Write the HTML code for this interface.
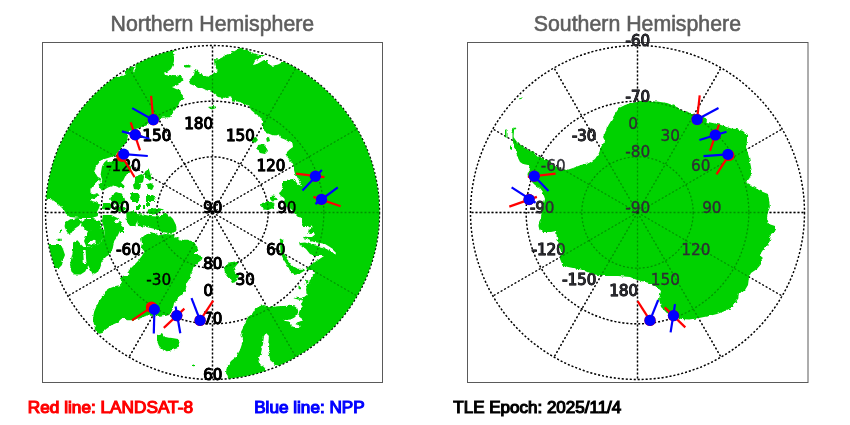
<!DOCTYPE html>
<html><head><meta charset="utf-8"><style>
html,body{margin:0;padding:0;background:#fff;width:850px;height:425px;overflow:hidden}
svg{display:block}
.gu{fill:none;stroke:#000;stroke-width:1.4;stroke-dasharray:2 2}
.go{fill:none;stroke:#000;stroke-opacity:0.3;stroke-width:1.3;stroke-dasharray:2 2}
.lu{font-family:"DejaVu Sans",sans-serif;font-size:15px;fill:#000;stroke:#000;stroke-width:0.95}
.ln{font-family:"DejaVu Sans",sans-serif;font-size:15.3px;fill:#000;stroke:#000;stroke-width:0.4}
.ls{font-family:"DejaVu Sans",sans-serif;font-size:15.3px;fill:#2e2e34;stroke:#2e2e34;stroke-width:0.35}
.t{font-family:"Liberation Sans",Arial,sans-serif;font-size:22.2px;fill:#5e5e5e;stroke:#5e5e5e;stroke-width:0.6}
.lg{font-family:"Liberation Sans",Arial,sans-serif;font-size:15.6px;stroke-width:1.1}
.land polygon{fill:#00d200;stroke:none}
.wat polygon{fill:#fff;stroke:none}
</style></head><body>
<svg width="850" height="425" viewBox="0 0 850 425">
<defs>
<clipPath id="cl"><circle cx="212.5" cy="212.5" r="167.0"/></clipPath>
<clipPath id="cr"><circle cx="637.5" cy="212.5" r="167.0"/></clipPath>
<filter id="rough" x="0" y="0" width="850" height="425" filterUnits="userSpaceOnUse"><feTurbulence type="fractalNoise" baseFrequency="0.28" numOctaves="2" seed="3" result="n"/><feDisplacementMap in="SourceGraphic" in2="n" scale="3.2" xChannelSelector="R" yChannelSelector="G"/></filter>
<mask id="mn" maskUnits="userSpaceOnUse" x="0" y="0" width="850" height="425"><g filter="url(#rough)"><g fill="#fff">
<polygon points="174.0,20.0 172.4,50.0 174.0,57.0 174.0,61.0 173.0,65.0 171.0,69.0 167.0,72.0 164.0,72.5 165.0,75.0 169.0,76.0 175.0,75.0 180.0,76.0 183.5,79.0 181.0,82.0 178.0,85.0 175.0,86.0 172.0,87.0 176.0,89.0 180.0,90.0 180.6,93.0 183.0,95.6 184.4,98.6 183.4,99.5 179.7,101.4 178.6,104.5 176.5,107.7 173.4,111.9 171.2,116.2 169.1,117.2 162.8,117.8 159.6,120.4 153.0,121.0 150.0,123.6 145.8,125.7 141.6,126.8 138.4,128.4 133.0,130.0 129.0,131.0 127.8,136.6 126.8,141.9 123.6,145.6 119.9,148.8 117.8,152.5 114.0,156.0 108.0,158.0 103.0,159.5 100.6,160.5 98.5,163.5 95.6,167.0 94.2,172.0 96.4,174.8 97.8,177.0 100.4,178.0 101.4,179.9 98.5,181.8 95.7,182.7 92.9,186.0 90.5,189.8 90.5,192.1 93.8,194.5 97.1,193.1 99.5,195.4 95.0,198.0 90.0,199.0 92.0,201.0 96.0,202.0 100.0,205.0 99.0,208.0 97.0,212.0 98.0,216.0 92.0,218.0 80.0,218.0 70.0,217.0 66.0,214.0 64.0,210.0 61.0,207.0 57.0,203.0 52.0,199.5 46.5,198.5 20.0,198.0 20.0,20.0"/>
<polygon points="171.0,49.5 176.0,49.5 175.0,52.0 172.0,52.0"/>
<polygon points="184.0,65.5 188.0,64.5 191.5,66.0 190.0,67.5 185.0,67.5"/>
<polygon points="209.0,107.0 214.0,106.0 216.0,108.0 212.0,109.5"/>
<polygon points="300.0,20.0 283.0,62.0 278.0,64.4 272.0,66.0 269.0,64.0 268.0,60.0 264.0,60.0 257.0,64.0 253.0,65.0 255.0,61.0 260.0,58.0 265.0,55.0 260.0,55.0 252.0,53.0 248.0,49.5 244.0,50.0 241.0,47.0 240.0,48.0 233.0,52.0 225.0,56.0 218.0,59.5 214.0,59.0 214.5,65.0 217.0,70.0 218.0,71.5 213.0,72.5 212.0,74.0 208.0,77.0 203.0,75.0 198.0,71.5 195.0,70.0 194.0,75.0 191.0,78.0 189.0,81.0 190.0,84.0 195.0,86.0 198.0,88.0 202.0,88.0 206.0,90.0 212.0,92.0 218.0,97.0 224.0,98.0 231.0,96.0 232.0,100.0 234.0,102.0 236.0,101.0 242.0,103.0 249.0,106.0 251.0,110.0 256.0,114.0 260.0,117.0 263.0,122.0 262.0,127.0 263.6,130.0 267.0,133.0 272.0,135.0 276.0,135.4 279.0,134.6 281.0,138.0 285.0,139.4 289.0,142.0 292.4,143.0 293.0,147.0 289.6,149.4 287.0,152.0 286.4,156.0 288.0,159.0 291.0,161.0 293.0,164.0 294.0,167.0 294.0,170.0 295.0,174.0 296.0,176.0 293.0,179.0 288.0,179.5 284.0,181.0 282.0,184.0 282.5,188.0 281.0,190.0 279.0,193.5 281.0,196.0 284.0,198.0 285.0,200.0 284.0,203.0 286.0,206.0 291.0,209.0 293.0,211.0 295.0,214.0 298.0,217.0 301.0,217.5 302.0,220.0 301.0,223.0 303.0,227.0 307.0,227.0 312.0,225.5 312.5,227.5 309.0,230.0 308.0,233.5 311.0,234.0 314.0,233.0 315.0,234.5 312.0,237.0 308.0,237.0 304.0,236.5 303.0,238.0 307.0,239.0 314.0,242.0 320.0,243.0 325.0,244.0 330.0,247.0 334.0,250.0 336.0,252.0 333.0,252.0 330.0,250.0 323.0,246.0 315.0,244.5 305.0,241.0 299.0,242.0 300.0,246.0 301.0,245.0 306.0,249.0 310.0,254.0 316.0,256.0 324.0,256.0 318.0,260.0 312.0,264.0 307.0,268.0 306.0,269.0 310.0,270.0 313.0,270.0 315.0,273.0 312.0,275.0 311.0,279.0 308.0,282.0 304.0,285.0 300.0,287.0 304.0,285.0 307.0,280.0 310.0,281.5 307.0,284.0 306.0,290.0 306.7,295.0 301.0,299.5 297.0,296.5 293.5,298.3 298.0,299.5 303.0,300.6 301.0,304.4 303.0,307.2 300.0,310.0 298.2,313.8 299.2,316.7 303.0,319.5 300.0,321.4 297.3,322.3 295.4,324.2 298.2,325.1 301.0,326.0 298.2,328.0 293.5,328.0 290.7,323.2 288.8,321.4 282.2,320.4 284.1,320.0 290.7,319.5 294.5,317.6 297.3,314.8 298.2,311.0 297.3,308.2 294.5,306.3 288.8,305.8 277.5,306.3 270.0,307.2 264.0,305.0 260.0,306.0 255.0,309.0 252.0,314.0 248.0,317.0 245.0,323.0 243.0,328.0 241.0,332.0 242.0,336.0 243.0,338.0 242.0,344.0 240.0,350.0 236.0,357.0 231.0,361.0 227.0,367.0 226.0,372.0 228.0,378.0 228.0,420.0 430.0,420.0 430.0,20.0"/>
<polygon points="298.5,286.5 301.0,286.0 302.0,288.0 300.0,289.5 298.5,288.5"/>
<polygon points="280.0,240.0 283.0,238.5 283.5,243.5 284.0,253.0 287.0,259.0 292.6,266.0 298.0,268.8 303.2,268.8 305.3,270.2 299.6,273.7 294.0,275.1 291.2,273.0 288.4,267.4 284.0,260.3 280.6,253.2"/>
<polygon points="270.0,196.0 274.0,195.5 277.0,198.0 276.0,201.0 272.0,201.5 270.0,199.0"/>
<polygon points="262.0,203.0 267.0,202.0 272.0,202.0 275.0,204.0 273.0,208.0 268.0,210.0 263.0,209.5 261.0,206.0"/>
<polygon points="252.0,138.0 256.0,137.0 258.0,140.0 255.0,143.0 252.0,142.0"/>
<polygon points="258.0,145.0 263.0,144.0 266.0,147.0 268.0,151.0 265.0,154.0 260.0,153.0 257.0,149.0"/>
<polygon points="266.0,138.0 269.0,137.0 270.0,141.0 267.0,142.0"/>
<polygon points="271.0,196.5 273.0,196.0"/>
<polygon points="229.3,262.5 236.4,261.0 238.5,263.9 236.4,266.7 233.6,268.1 235.0,272.4 239.2,275.2 237.8,278.0 235.0,282.3 232.1,283.0 229.3,278.0 225.1,272.4 223.7,268.1 226.5,265.3"/>
<polygon points="130.6,268.4 128.3,271.2 129.4,274.4 126.2,275.4 122.0,276.0 119.8,278.6 122.0,280.7 120.9,285.0 115.6,286.0 110.3,288.0 104.7,292.0 102.4,296.8 98.8,301.5 96.5,306.0 94.0,312.0 93.0,318.0 94.0,324.0 95.3,329.7 97.6,333.2 102.4,332.0 107.0,328.5 111.8,325.0 117.6,322.6 121.2,319.0 123.5,318.0 127.0,320.3 131.8,320.3 137.6,319.0 143.5,316.8 148.0,315.6 153.0,316.0 160.0,316.8 167.0,315.6 170.6,313.2 173.0,308.5 174.0,303.0 177.0,299.8 179.0,296.6 183.4,293.4 185.5,290.2 186.5,286.0 187.6,281.8 189.7,278.6 190.8,273.3 194.0,268.0 197.3,263.0 201.5,260.0 202.6,257.8 200.5,255.7 196.2,254.6 193.0,253.6 195.2,251.5 198.4,250.4 196.0,245.0 194.0,242.0 187.8,239.8 181.4,239.8 177.0,237.7 173.0,234.5 165.5,234.0 162.4,234.5 159.0,235.6 155.0,233.5 150.7,231.9 144.4,235.6 141.0,238.8 142.0,243.0 141.0,247.2 144.4,251.5 142.0,255.7 138.0,261.0 133.8,265.2"/>
<polygon points="157.0,336.0 162.0,334.0 164.0,337.0 172.0,338.0 178.0,339.0 180.0,344.0 178.0,348.0 172.0,350.0 166.0,351.4 162.0,349.0 159.0,346.0 157.0,341.0"/>
<polygon points="192.0,365.0 195.0,364.5 195.0,366.0 192.0,366.5"/>
<polygon points="137.0,214.0 143.0,214.5 150.0,216.0 157.0,216.5 160.0,215.0 161.5,215.0 164.0,213.0 169.0,215.0 173.0,219.0 176.0,225.0 176.5,230.0 175.0,232.4 168.7,233.0 162.0,232.0 155.0,229.0 146.5,227.0 138.0,226.0 137.0,220.0"/>
<polygon points="148.0,209.5 153.0,208.5 158.0,208.0 164.0,209.5 160.0,211.5 156.0,214.0 151.0,215.0 147.5,213.0"/>
<polygon points="126.0,212.0 134.0,211.0 137.0,214.0 137.0,222.0 135.0,226.0 130.0,226.0 127.0,222.0"/>
<polygon points="120.0,227.0 124.0,227.0 124.0,233.0 120.0,233.0"/>
<polygon points="102.8,215.0 111.2,215.0 117.3,218.0 121.9,222.6 120.3,230.3 117.3,236.4 114.2,241.0 112.7,248.6 109.6,254.8 106.6,256.3 102.0,260.9 100.5,267.0 97.4,273.1 92.8,274.6 89.8,268.5 88.2,265.5 85.2,271.6 80.6,274.6 74.5,274.6 71.4,271.6 69.9,265.5 71.4,257.8 73.0,250.2 73.0,242.5 77.5,240.2 80.6,244.0 83.6,247.1 89.8,247.1 94.3,245.6 98.9,244.0 102.0,239.5 105.0,236.4 104.0,228.0 102.0,221.0"/>
<polygon points="88.0,231.0 100.0,228.0 104.0,230.0 105.0,236.4 102.0,239.5 98.9,244.0 94.3,245.6 89.8,247.1 86.0,246.0 84.0,241.0 86.0,236.0"/>
<polygon points="65.3,222.6 69.9,219.6 77.5,218.0 82.1,221.1 79.0,225.7 74.5,228.8 69.9,234.9 66.8,231.8 64.5,226.5"/>
<polygon points="82.0,222.0 86.0,219.0 93.0,219.0 100.0,221.0 102.0,227.0 97.0,230.0 90.0,231.0 85.0,229.0 81.0,226.0"/>
<polygon points="59.0,229.5 62.0,229.5 62.0,232.6 59.0,232.6"/>
<polygon points="40.0,245.0 61.0,245.0 63.0,249.0 65.0,255.0 63.0,260.0 62.0,265.0 59.0,268.0 40.0,268.0"/>
<polygon points="57.6,238.7 60.7,238.7 60.7,241.0 57.6,241.0"/>
<polygon points="107.0,160.0 108.3,161.4 111.2,162.1 116.0,158.0 120.0,158.0 125.3,160.7 129.5,164.2 132.3,169.2 129.5,172.7 128.0,172.7 125.3,176.2 123.2,180.5 121.0,182.6 124.6,186.0 123.9,188.2 118.2,187.5 113.3,185.4 110.8,186.5 108.0,187.4 104.2,189.8 102.3,191.2 99.5,187.4 98.5,184.1 102.3,179.9 101.6,178.3 100.6,174.8 101.3,170.6 102.0,166.4 104.0,162.8"/>
<polygon points="135.0,177.0 139.0,175.0 142.0,174.0 144.0,177.0 143.0,182.0 140.0,184.0 142.0,187.0 139.0,190.0 134.0,189.0 133.0,185.0 135.0,181.0"/>
<polygon points="145.5,171.0 149.0,169.5 151.0,176.0 150.0,181.0 146.0,178.0 144.0,174.0"/>
<polygon points="147.0,184.0 151.0,183.0 154.0,186.0 152.0,190.0 148.0,189.0"/>
<polygon points="131.0,193.0 137.0,193.0 140.0,197.0 138.0,202.0 132.0,202.0 130.0,198.0"/>
<polygon points="147.0,195.0 153.0,195.0 156.0,198.0 154.0,202.0 148.0,202.0"/>
<polygon points="112.0,195.0 116.0,192.0 122.0,194.0 125.0,199.0 124.0,204.0 117.0,205.0 112.0,202.0 110.0,199.0"/>
<polygon points="131.0,195.0 139.0,195.0 139.0,201.0 131.0,201.0"/>
<polygon points="146.0,196.0 155.0,196.0 155.0,202.0 146.0,202.0"/>
<polygon points="146.0,203.0 150.0,203.0 150.0,206.0 146.0,206.0"/>
<polygon points="143.0,205.0 145.0,205.0 145.0,209.0 143.0,209.0"/>
<polygon points="136.0,205.0 140.0,205.0 140.0,209.0 136.0,209.0"/>
<polygon points="103.0,203.0 110.0,203.0 113.0,207.0 108.0,210.0 102.0,209.0"/>
<polygon points="115.0,207.0 122.0,206.0 126.0,209.0 122.0,212.0 116.0,211.0"/>
</g><g fill="#000">
<polygon points="264.0,336.0 263.0,344.0 261.0,353.0 259.0,358.0 260.0,364.0 264.0,367.0 266.0,370.0 272.0,372.0 279.0,365.5 275.0,365.0 271.0,362.0 269.0,355.0 268.0,346.0 269.0,336.0 266.0,333.0"/>
<polygon points="319.0,246.0 327.0,247.0 333.0,249.0 336.0,253.0 335.0,255.0 332.0,251.0 327.0,249.0 320.0,247.5"/>
<polygon points="299.0,241.0 305.0,240.0 315.0,243.0 323.0,245.0 330.0,248.5 334.0,251.5 333.0,252.5 329.0,250.0 322.0,247.0 314.0,245.0 305.0,242.5 300.0,243.0"/>
<polygon points="296.0,175.0 302.0,186.0 298.0,184.5 293.0,178.0"/>
<polygon points="83.0,250.0 85.5,250.0 86.5,264.0 84.0,264.0"/>
<polygon points="89.0,240.5 92.0,239.5 95.5,240.5 95.5,243.5 92.0,245.0 89.0,244.0"/>
<polygon points="116.0,219.5 121.0,220.5 119.0,222.5 114.0,222.0"/>
<polygon points="112.0,70.0 116.1,76.5 119.4,75.7 123.5,75.7 126.3,74.0 125.6,71.9 126.3,69.1 129.1,67.7 132.6,66.3 134.0,67.7 133.3,71.2 134.0,72.6 135.5,69.1 135.5,64.9 135.0,55.0 112.0,55.0"/>
</g></g></mask>
<mask id="ms" maskUnits="userSpaceOnUse" x="0" y="0" width="850" height="425"><g filter="url(#rough)"><g fill="#fff">
<polygon points="513.5,127.5 516.5,128.0 514.0,131.0 513.5,137.0 517.0,142.0 523.0,147.0 529.0,150.0 533.0,152.0 537.0,156.0 542.0,158.0 547.0,160.0 553.0,165.0 561.0,169.0 567.0,170.0 573.0,168.0 581.0,165.0 589.0,163.0 595.0,159.0 599.0,153.0 601.0,147.0 605.0,141.0 603.0,137.0 605.0,133.0 607.0,127.0 608.0,126.0 611.0,121.0 615.0,114.0 619.0,108.0 625.0,105.0 631.0,103.0 637.0,102.0 645.0,102.0 657.0,101.6 667.0,103.0 675.0,106.0 683.0,111.0 691.0,114.0 696.0,114.0 704.4,117.4 708.0,122.0 713.8,123.3 719.7,124.5 725.6,126.8 731.5,128.6 737.0,129.0 743.0,131.0 747.0,135.0 747.0,141.0 746.0,147.0 749.0,157.0 751.0,167.0 752.0,173.0 749.0,179.0 746.0,182.0 751.0,185.0 757.0,189.0 763.0,192.0 768.0,194.0 769.0,199.0 770.0,207.0 768.0,212.0 767.0,218.0 769.0,224.0 775.0,226.0 776.0,231.0 771.0,234.0 770.0,240.0 769.0,244.0 765.0,248.0 761.0,254.0 762.0,263.0 757.0,269.0 751.0,273.0 749.0,277.0 748.0,285.0 745.0,290.0 739.0,293.0 738.0,299.0 735.0,303.0 733.0,307.0 731.0,308.0 725.0,311.0 717.0,314.0 709.0,316.0 699.0,318.0 689.0,319.4 681.0,319.0 677.0,317.0 667.0,313.0 661.0,307.0 659.0,299.0 661.0,291.0 657.0,287.0 649.0,283.0 641.0,281.0 637.0,280.0 630.0,277.0 618.0,276.0 606.0,276.0 598.0,275.0 591.0,274.0 583.0,270.0 573.0,268.0 563.0,266.0 560.0,259.0 561.0,252.0 559.0,244.0 557.0,238.0 556.0,231.0 551.0,232.0 543.0,232.0 539.5,230.0 538.5,226.0 539.0,222.0 541.0,218.0 541.5,213.0 542.0,208.0 544.0,203.0 545.0,199.0 544.0,196.0 542.0,192.0 539.0,188.0 535.0,185.0 532.0,182.0 530.0,179.0 527.5,175.0 528.0,172.0 530.0,169.0 528.0,165.0 523.0,164.0 520.0,162.0 518.0,158.0 516.0,152.0 514.0,146.0 512.5,140.0 512.5,132.0"/>
<polygon points="505.0,129.5 506.5,130.0 506.5,138.0 505.0,137.0"/>
<polygon points="510.0,145.5 512.0,146.0 512.0,150.0 510.0,149.0"/>
<polygon points="519.0,98.5 522.0,97.6 521.5,99.0 519.0,99.3"/>
</g><g fill="#000">
</g></g></mask>
</defs>
<text x="110.6" y="30.9" textLength="203.6" lengthAdjust="spacingAndGlyphs" class="t">Northern Hemisphere</text>
<text x="533.8" y="30.9" textLength="207.2" lengthAdjust="spacingAndGlyphs" class="t">Southern Hemisphere</text>
<rect x="42.5" y="42.5" width="340" height="340" fill="none" stroke="#5a5a5a" stroke-width="1"/>
<rect x="467.5" y="42.5" width="340.5" height="340" fill="none" stroke="#5a5a5a" stroke-width="1"/>
<g class="gu">
<circle cx="212.5" cy="212.5" r="55.67"/>
<circle cx="212.5" cy="212.5" r="111.33"/>
<circle cx="212.5" cy="212.5" r="167.00"/>
<line x1="212.5" y1="212.5" x2="212.50" y2="379.50"/>
<line x1="212.5" y1="212.5" x2="296.00" y2="357.13"/>
<line x1="212.5" y1="212.5" x2="357.13" y2="296.00"/>
<line x1="212.5" y1="212.5" x2="379.50" y2="212.50"/>
<line x1="212.5" y1="212.5" x2="357.13" y2="129.00"/>
<line x1="212.5" y1="212.5" x2="296.00" y2="67.87"/>
<line x1="212.5" y1="212.5" x2="212.50" y2="45.50"/>
<line x1="212.5" y1="212.5" x2="129.00" y2="67.87"/>
<line x1="212.5" y1="212.5" x2="67.87" y2="129.00"/>
<line x1="212.5" y1="212.5" x2="45.50" y2="212.50"/>
<line x1="212.5" y1="212.5" x2="67.87" y2="296.00"/>
<line x1="212.5" y1="212.5" x2="129.00" y2="357.13"/>
<circle cx="637.5" cy="212.5" r="55.67"/>
<circle cx="637.5" cy="212.5" r="111.33"/>
<circle cx="637.5" cy="212.5" r="167.00"/>
<line x1="637.5" y1="212.5" x2="637.50" y2="45.50"/>
<line x1="637.5" y1="212.5" x2="721.00" y2="67.87"/>
<line x1="637.5" y1="212.5" x2="782.13" y2="129.00"/>
<line x1="637.5" y1="212.5" x2="804.50" y2="212.50"/>
<line x1="637.5" y1="212.5" x2="782.13" y2="296.00"/>
<line x1="637.5" y1="212.5" x2="721.00" y2="357.13"/>
<line x1="637.5" y1="212.5" x2="637.50" y2="379.50"/>
<line x1="637.5" y1="212.5" x2="554.00" y2="357.13"/>
<line x1="637.5" y1="212.5" x2="492.87" y2="296.00"/>
<line x1="637.5" y1="212.5" x2="470.50" y2="212.50"/>
<line x1="637.5" y1="212.5" x2="492.87" y2="129.00"/>
<line x1="637.5" y1="212.5" x2="554.00" y2="67.87"/>
</g>
<g class="lu">
<text x="171.3" y="140.5" text-anchor="end">-150</text>
<text x="140.8" y="171.1" text-anchor="end">-120</text>
<text x="129.6" y="212.8" text-anchor="end">-90</text>
<text x="140.8" y="254.6" text-anchor="end">-60</text>
<text x="171.3" y="285.1" text-anchor="end">-30</text>
<text x="213.1" y="296.3" text-anchor="end">0</text>
<text x="254.8" y="285.1" text-anchor="end">30</text>
<text x="285.4" y="254.6" text-anchor="end">60</text>
<text x="296.6" y="212.8" text-anchor="end">90</text>
<text x="285.4" y="171.1" text-anchor="end">120</text>
<text x="254.8" y="140.5" text-anchor="end">150</text>
<text x="213.1" y="129.3" text-anchor="end">180</text>
<text x="212.8" y="212.8" text-anchor="middle">90</text>
<text x="212.8" y="268.5" text-anchor="middle">80</text>
<text x="212.8" y="324.1" text-anchor="middle">70</text>
<text x="212.8" y="379.8" text-anchor="middle">60</text>
<text x="596.4" y="285.1" text-anchor="end">-150</text>
<text x="565.8" y="254.5" text-anchor="end">-120</text>
<text x="554.6" y="212.8" text-anchor="end">-90</text>
<text x="596.4" y="140.5" text-anchor="end">-30</text>
<text x="638.1" y="129.3" text-anchor="end">0</text>
<text x="679.9" y="140.5" text-anchor="end">30</text>
<text x="710.4" y="171.1" text-anchor="end">60</text>
<text x="721.6" y="212.8" text-anchor="end">90</text>
<text x="710.4" y="254.5" text-anchor="end">120</text>
<text x="679.9" y="285.1" text-anchor="end">150</text>
<text x="638.1" y="296.3" text-anchor="end">180</text>
<text x="637.8" y="212.8" text-anchor="middle">-90</text>
<text x="637.8" y="157.1" text-anchor="middle">-80</text>
<text x="637.8" y="101.5" text-anchor="middle">-70</text>
<text x="637.8" y="45.8" text-anchor="middle">-60</text>
</g>
<g clip-path="url(#cl)"><rect x="0" y="0" width="425" height="425" fill="#00d200" mask="url(#mn)"/></g>
<g clip-path="url(#cr)"><rect x="425" y="0" width="425" height="425" fill="#00d200" mask="url(#ms)"/></g>
<g class="go">
<circle cx="212.5" cy="212.5" r="55.67"/>
<circle cx="212.5" cy="212.5" r="111.33"/>
<circle cx="212.5" cy="212.5" r="167.00"/>
<line x1="212.5" y1="212.5" x2="212.50" y2="379.50"/>
<line x1="212.5" y1="212.5" x2="296.00" y2="357.13"/>
<line x1="212.5" y1="212.5" x2="357.13" y2="296.00"/>
<line x1="212.5" y1="212.5" x2="379.50" y2="212.50"/>
<line x1="212.5" y1="212.5" x2="357.13" y2="129.00"/>
<line x1="212.5" y1="212.5" x2="296.00" y2="67.87"/>
<line x1="212.5" y1="212.5" x2="212.50" y2="45.50"/>
<line x1="212.5" y1="212.5" x2="129.00" y2="67.87"/>
<line x1="212.5" y1="212.5" x2="67.87" y2="129.00"/>
<line x1="212.5" y1="212.5" x2="45.50" y2="212.50"/>
<line x1="212.5" y1="212.5" x2="67.87" y2="296.00"/>
<line x1="212.5" y1="212.5" x2="129.00" y2="357.13"/>
<circle cx="637.5" cy="212.5" r="55.67"/>
<circle cx="637.5" cy="212.5" r="111.33"/>
<circle cx="637.5" cy="212.5" r="167.00"/>
<line x1="637.5" y1="212.5" x2="637.50" y2="45.50"/>
<line x1="637.5" y1="212.5" x2="721.00" y2="67.87"/>
<line x1="637.5" y1="212.5" x2="782.13" y2="129.00"/>
<line x1="637.5" y1="212.5" x2="804.50" y2="212.50"/>
<line x1="637.5" y1="212.5" x2="782.13" y2="296.00"/>
<line x1="637.5" y1="212.5" x2="721.00" y2="357.13"/>
<line x1="637.5" y1="212.5" x2="637.50" y2="379.50"/>
<line x1="637.5" y1="212.5" x2="554.00" y2="357.13"/>
<line x1="637.5" y1="212.5" x2="492.87" y2="296.00"/>
<line x1="637.5" y1="212.5" x2="470.50" y2="212.50"/>
<line x1="637.5" y1="212.5" x2="492.87" y2="129.00"/>
<line x1="637.5" y1="212.5" x2="554.00" y2="67.87"/>
</g>
<g class="ln">
<text x="171.3" y="140.5" text-anchor="end">-150</text>
<text x="140.8" y="171.1" text-anchor="end">-120</text>
<text x="129.6" y="212.8" text-anchor="end">-90</text>
<text x="140.8" y="254.6" text-anchor="end">-60</text>
<text x="171.3" y="285.1" text-anchor="end">-30</text>
<text x="213.1" y="296.3" text-anchor="end">0</text>
<text x="254.8" y="285.1" text-anchor="end">30</text>
<text x="285.4" y="254.6" text-anchor="end">60</text>
<text x="296.6" y="212.8" text-anchor="end">90</text>
<text x="285.4" y="171.1" text-anchor="end">120</text>
<text x="254.8" y="140.5" text-anchor="end">150</text>
<text x="213.1" y="129.3" text-anchor="end">180</text>
<text x="212.8" y="212.8" text-anchor="middle">90</text>
<text x="212.8" y="268.5" text-anchor="middle">80</text>
<text x="212.8" y="324.1" text-anchor="middle">70</text>
<text x="212.8" y="379.8" text-anchor="middle">60</text>
</g>
<g class="ls">
<text x="596.4" y="285.1" text-anchor="end">-150</text>
<text x="565.8" y="254.5" text-anchor="end">-120</text>
<text x="554.6" y="212.8" text-anchor="end">-90</text>
<text x="565.8" y="171.1" text-anchor="end">-60</text>
<text x="596.4" y="140.5" text-anchor="end">-30</text>
<text x="638.1" y="129.3" text-anchor="end">0</text>
<text x="679.9" y="140.5" text-anchor="end">30</text>
<text x="710.4" y="171.1" text-anchor="end">60</text>
<text x="721.6" y="212.8" text-anchor="end">90</text>
<text x="710.4" y="254.5" text-anchor="end">120</text>
<text x="679.9" y="285.1" text-anchor="end">150</text>
<text x="638.1" y="296.3" text-anchor="end">180</text>
<text x="637.8" y="212.8" text-anchor="middle">-90</text>
<text x="637.8" y="157.1" text-anchor="middle">-80</text>
<text x="637.8" y="101.5" text-anchor="middle">-70</text>
<text x="637.8" y="45.8" text-anchor="middle">-60</text>
</g>
<line x1="151.1" y1="95.8" x2="153.8" y2="125.0" stroke="#f00" stroke-width="2.2"/>
<circle cx="153.3" cy="119.7" r="5.7" fill="#f00"/>
<line x1="130.7" y1="122.3" x2="140.0" y2="150.4" stroke="#f00" stroke-width="2.2"/>
<circle cx="135.2" cy="134.7" r="5.7" fill="#f00"/>
<line x1="121.9" y1="156.3" x2="134.6" y2="177.2" stroke="#f00" stroke-width="2.2"/>
<circle cx="121.9" cy="156.3" r="5.7" fill="#f00"/>
<line x1="296.0" y1="173.6" x2="324.4" y2="177.2" stroke="#f00" stroke-width="2.2"/>
<circle cx="315.4" cy="176.2" r="5.7" fill="#f00"/>
<line x1="313.4" y1="196.9" x2="340.6" y2="206.3" stroke="#f00" stroke-width="2.2"/>
<circle cx="321.5" cy="199.4" r="5.7" fill="#f00"/>
<line x1="151.5" y1="307.1" x2="132.0" y2="320.4" stroke="#f00" stroke-width="2.2"/>
<circle cx="151.5" cy="307.1" r="5.7" fill="#f00"/>
<line x1="163.8" y1="327.9" x2="184.4" y2="308.6" stroke="#f00" stroke-width="2.2"/>
<circle cx="176.8" cy="315.6" r="5.7" fill="#f00"/>
<line x1="200.1" y1="320.4" x2="213.2" y2="300.6" stroke="#f00" stroke-width="2.2"/>
<circle cx="200.1" cy="320.4" r="5.7" fill="#f00"/>
<line x1="697.1" y1="119.5" x2="699.7" y2="95.3" stroke="#f00" stroke-width="2.2"/>
<circle cx="697.1" cy="119.5" r="5.7" fill="#f00"/>
<line x1="719.0" y1="124.5" x2="710.0" y2="150.9" stroke="#f00" stroke-width="2.2"/>
<circle cx="715.3" cy="135.0" r="5.7" fill="#f00"/>
<line x1="728.8" y1="155.4" x2="716.5" y2="174.4" stroke="#f00" stroke-width="2.2"/>
<circle cx="728.8" cy="155.4" r="5.7" fill="#f00"/>
<line x1="527.8" y1="176.8" x2="555.6" y2="173.6" stroke="#f00" stroke-width="2.2"/>
<circle cx="534.3" cy="176.2" r="5.7" fill="#f00"/>
<line x1="509.3" y1="206.6" x2="536.9" y2="196.9" stroke="#f00" stroke-width="2.2"/>
<circle cx="529.1" cy="199.5" r="5.7" fill="#f00"/>
<line x1="637.6" y1="301.2" x2="650.0" y2="320.4" stroke="#f00" stroke-width="2.2"/>
<circle cx="650.0" cy="320.4" r="5.7" fill="#f00"/>
<line x1="664.7" y1="307.4" x2="685.3" y2="327.4" stroke="#f00" stroke-width="2.2"/>
<circle cx="673.5" cy="315.6" r="5.7" fill="#f00"/>
<line x1="132.2" y1="108.1" x2="155.0" y2="121.0" stroke="#00f" stroke-width="2.2"/>
<circle cx="153.3" cy="119.7" r="5.6" fill="#00f"/>
<line x1="121.9" y1="131.4" x2="149.5" y2="138.8" stroke="#00f" stroke-width="2.2"/>
<circle cx="135.2" cy="134.7" r="5.6" fill="#00f"/>
<line x1="123.8" y1="154.1" x2="147.8" y2="156.0" stroke="#00f" stroke-width="2.2"/>
<circle cx="123.8" cy="154.1" r="5.6" fill="#00f"/>
<line x1="302.5" y1="190.4" x2="321.9" y2="170.1" stroke="#00f" stroke-width="2.2"/>
<circle cx="315.4" cy="176.2" r="5.6" fill="#00f"/>
<line x1="315.4" y1="204.0" x2="337.8" y2="187.4" stroke="#00f" stroke-width="2.2"/>
<circle cx="321.5" cy="199.4" r="5.6" fill="#00f"/>
<line x1="154.4" y1="309.4" x2="153.8" y2="333.5" stroke="#00f" stroke-width="2.2"/>
<circle cx="154.4" cy="309.4" r="5.6" fill="#00f"/>
<line x1="175.6" y1="306.5" x2="180.3" y2="333.3" stroke="#00f" stroke-width="2.2"/>
<circle cx="176.8" cy="315.6" r="5.6" fill="#00f"/>
<line x1="191.5" y1="298.2" x2="200.1" y2="320.4" stroke="#00f" stroke-width="2.2"/>
<circle cx="200.1" cy="320.4" r="5.6" fill="#00f"/>
<line x1="697.1" y1="119.5" x2="718.5" y2="108.0" stroke="#00f" stroke-width="2.2"/>
<circle cx="697.1" cy="119.5" r="5.6" fill="#00f"/>
<line x1="699.4" y1="140.0" x2="726.5" y2="131.8" stroke="#00f" stroke-width="2.2"/>
<circle cx="715.3" cy="135.0" r="5.6" fill="#00f"/>
<line x1="703.5" y1="156.2" x2="727.9" y2="154.4" stroke="#00f" stroke-width="2.2"/>
<circle cx="727.9" cy="154.4" r="5.6" fill="#00f"/>
<line x1="534.3" y1="176.2" x2="548.5" y2="191.0" stroke="#00f" stroke-width="2.2"/>
<circle cx="534.3" cy="176.2" r="5.6" fill="#00f"/>
<line x1="511.6" y1="187.4" x2="535.6" y2="202.7" stroke="#00f" stroke-width="2.2"/>
<circle cx="529.1" cy="199.5" r="5.6" fill="#00f"/>
<line x1="658.2" y1="300.0" x2="650.0" y2="320.4" stroke="#00f" stroke-width="2.2"/>
<circle cx="650.0" cy="320.4" r="5.6" fill="#00f"/>
<line x1="675.0" y1="304.1" x2="670.6" y2="332.4" stroke="#00f" stroke-width="2.2"/>
<circle cx="673.5" cy="315.6" r="5.6" fill="#00f"/>
<text x="27.8" y="413" textLength="165.2" lengthAdjust="spacingAndGlyphs" class="lg" fill="#f00" stroke="#f00">Red line: LANDSAT-8</text>
<text x="254.2" y="413" textLength="110.5" lengthAdjust="spacingAndGlyphs" class="lg" fill="#00f" stroke="#00f">Blue line: NPP</text>
<text x="453.3" y="413" textLength="168" lengthAdjust="spacingAndGlyphs" class="lg" fill="#000" stroke="#000">TLE Epoch: 2025/11/4</text>
</svg>
</body></html>
